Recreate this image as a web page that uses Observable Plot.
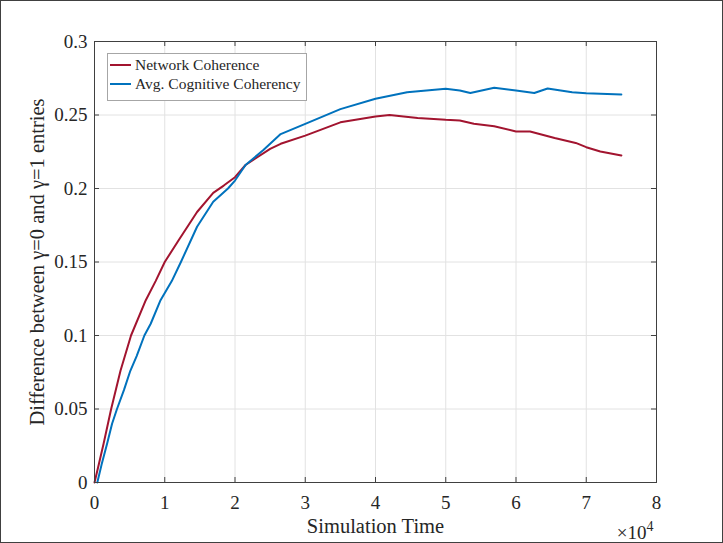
<!DOCTYPE html>
<html>
<head>
<meta charset="utf-8">
<script src="https://cdn.jsdelivr.net/npm/d3@7"></script>
<script src="https://cdn.jsdelivr.net/npm/@observablehq/plot@0.6"></script>
<style>
  html, body { margin: 0; padding: 0; background: #fff; }
  #wrap { position: relative; width: 723px; height: 543px; }
  #wrap svg { outline: 1px solid #404040; outline-offset: -1px; }
  #wrap svg [aria-label^="x-axis"] text,
  #wrap svg [aria-label^="y-axis"] text { font-size: 19px; fill: #262626; }
  #legend { position: absolute; left: 107px; top: 53px; width: 200px; height: 48px;
    border: 1px solid #a6a6a6; background: #fff; box-sizing: border-box;
    font-family: "Liberation Serif", serif; font-size: 15.5px; color: #262626; }
  .row { position: absolute; left: 2px; height: 19px; display: flex; align-items: center; white-space: nowrap; }
  .sw { width: 21px; height: 2px; margin-right: 4px; }
</style>
</head>
<body>
<div id="wrap"><div id="legend"></div></div>
<script>
// Series names and colours
const seriesNames = ["Network Coherence", "Avg. Cognitive Coherency"];
const seriesColors = ["#A2142F", "#0072BD"];

// Network Coherence (red)
const netTime = [0, 500, 1300, 2370, 3700, 5200, 7300, 8700, 10000, 12000, 14600, 16900, 18400, 20000, 21500, 25000, 26500, 30000, 35000, 40000, 42000, 46000, 50000, 52000, 54000, 56900, 60000, 62000, 65500, 68500, 70000, 72000, 75000];
const netValue = [0, 0.010, 0.0265, 0.050, 0.076, 0.100, 0.124, 0.137, 0.150, 0.165, 0.184, 0.197, 0.202, 0.2077, 0.216, 0.227, 0.2304, 0.236, 0.245, 0.249, 0.250, 0.248, 0.2467, 0.2463, 0.244, 0.2424, 0.2388, 0.2388, 0.2343, 0.231, 0.2281, 0.2252, 0.2224];

// Avg. Cognitive Coherency (blue)
const cogTime = [400, 1000, 1800, 2500, 3200, 4200, 5100, 6000, 7100, 8000, 9400, 11000, 12300, 14600, 16900, 19000, 20000, 21500, 24000, 26500, 30000, 35000, 40000, 44500, 50000, 52000, 53500, 56900, 60000, 62600, 64500, 68000, 70000, 75000];
const cogValue = [0, 0.012, 0.0265, 0.040, 0.050, 0.063, 0.076, 0.086, 0.100, 0.108, 0.124, 0.137, 0.150, 0.174, 0.191, 0.200, 0.2054, 0.216, 0.226, 0.237, 0.244, 0.254, 0.261, 0.2655, 0.2678, 0.2667, 0.265, 0.2685, 0.2667, 0.265, 0.268, 0.2655, 0.2648, 0.2639];

// Ticks
const xTicks = [0, 10000, 20000, 30000, 40000, 50000, 60000, 70000, 80000];
const xTickLabels = ["0", "1", "2", "3", "4", "5", "6", "7", "8"];
const yTicks = [0, 0.05, 0.1, 0.15, 0.2, 0.25, 0.3];
const yTickLabels = ["0", "0.05", "0.1", "0.15", "0.2", "0.25", "0.3"];

const xLabel = "Simulation Time";
const yLabel = "Difference between \u03B3=0 and \u03B3=1 entries";
const xExponentBase = "\u00D710";
const xExponentPower = "4";

const W = 723, H = 543;
const mL = 94, mR = 67, mT = 41, mB = 61;
const plotW = W - mL - mR, plotH = H - mT - mB;
const axisColor = "#404040";
const fontFamily = "'Liberation Serif', 'Times New Roman', serif";

const net = netTime.map((t, i) => ({t, v: netValue[i]}));
const cog = cogTime.map((t, i) => ({t, v: cogValue[i]}));

const chart = Plot.plot({
  width: W, height: H,
  marginLeft: mL, marginRight: mR, marginTop: mT, marginBottom: mB,
  style: {fontFamily, color: "#262626", background: "#fff"},
  x: {domain: [0, 80000], ticks: xTicks, tickFormat: d => xTickLabels[xTicks.indexOf(d)], tickSize: 0, tickPadding: 13, label: null},
  y: {domain: [0, 0.3], ticks: yTicks, tickFormat: d => yTickLabels[yTicks.indexOf(d)], tickSize: 0, tickPadding: 7, label: null},
  marks: [
    Plot.ruleX(xTicks, {x: d => d, stroke: "#e2e2e2"}),
    Plot.ruleY(yTicks, {y: d => d, stroke: "#e2e2e2"}),
    Plot.line(net, {x: "t", y: "v", stroke: seriesColors[0], strokeWidth: 2}),
    Plot.line(cog, {x: "t", y: "v", stroke: seriesColors[1], strokeWidth: 2}),
    Plot.frame({stroke: axisColor}),
    Plot.tickX(xTicks, {x: d => d, stroke: axisColor, insetTop: plotH - 5}),
    Plot.tickX(xTicks, {x: d => d, stroke: axisColor, insetBottom: plotH - 5}),
    Plot.tickY(yTicks, {y: d => d, stroke: axisColor, insetRight: plotW - 5}),
    Plot.tickY(yTicks, {y: d => d, stroke: axisColor, insetLeft: plotW - 5}),
    Plot.text([xLabel], {text: d => d, frameAnchor: "bottom", lineAnchor: "middle", textAnchor: "middle", dy: 44, fontSize: 20.5, fill: "#262626"}),
    Plot.text([yLabel], {text: d => d, frameAnchor: "left", lineAnchor: "middle", textAnchor: "middle", rotate: -90, dx: -57, fontSize: 20.5, fill: "#262626"}),
    Plot.text([xExponentBase], {text: d => d, frameAnchor: "bottom-right", lineAnchor: "middle", textAnchor: "end", dx: -3, dy: 50, fontSize: 19, fill: "#262626"})
  ]
});

// add the superscript power to the exponent label
d3.select(chart).selectAll("text")
  .filter(function() { return this.textContent === xExponentBase; })
  .each(function() {
    const t = d3.select(this);
    t.attr("text-anchor", "start");
    t.append("tspan").attr("dy", "-0.55em").attr("font-size", 14).text(xExponentPower);
  });

const wrap = document.getElementById("wrap");
wrap.insertBefore(chart, wrap.firstChild);

// right-align the exponent group to the frame edge
d3.select(chart).selectAll("text")
  .filter(function() { return this.textContent === xExponentBase + xExponentPower; })
  .each(function() {
    const bb = this.getBBox();
    const cur = this.getAttribute("x") ? +this.getAttribute("x") : 0;
    this.setAttribute("x", cur - bb.width);
  });

const legend = document.getElementById("legend");
seriesNames.forEach((name, i) => {
  const row = document.createElement("div");
  row.className = "row";
  row.style.top = (1 + i * 19) + "px";
  const sw = document.createElement("span");
  sw.className = "sw";
  sw.style.background = seriesColors[i];
  const tx = document.createElement("span");
  tx.textContent = name;
  row.appendChild(sw); row.appendChild(tx);
  legend.appendChild(row);
});
</script>
</body>
</html>
